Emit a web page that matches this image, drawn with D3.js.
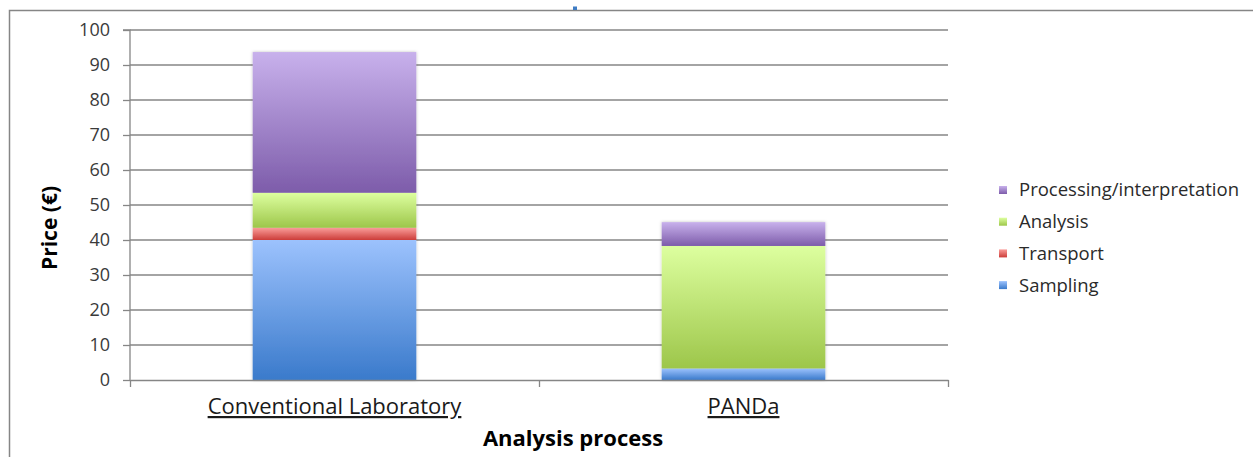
<!DOCTYPE html>
<html>
<head>
<meta charset="utf-8">
<script src="https://cdn.jsdelivr.net/npm/d3@7/dist/d3.min.js"></script>
<style>
    body { margin: 0; background: #fff; }
    text { font-family: "Open Sans", sans-serif; }
</style>
</head>
<body>
<div id="chart"></div>
<script>
var categories = ["Conventional Laboratory", "PANDa"];
var seriesNames = ["Sampling", "Transport", "Analysis", "Processing/interpretation"];
var sampling = [40, 3.3];
var transport = [3.5, 0];
var analysis = [10, 35];
var processing = [40.2, 6.8];
var yTicks = [0, 10, 20, 30, 40, 50, 60, 70, 80, 90, 100];

var svgWidth = 1253;
var svgHeight = 457;

var plot = { left: 130, right: 948, top: 30, bottom: 380 };
var fontStack = '"Open Sans", sans-serif';

var svg = d3.select("#chart").append("svg")
    .attr("width", svgWidth)
    .attr("height", svgHeight);

var defs = svg.append("defs");

// light top -> dark bottom, like the office gradient fills
var fills = [
    { id: "gSampling", top: "#9cc2fd", bottom: "#3a7acb" },
    { id: "gTransport", top: "#fa9d9a", bottom: "#cc3d39" },
    { id: "gAnalysis", top: "#ddff9f", bottom: "#9dc64a" },
    { id: "gProcessing", top: "#c8b1ec", bottom: "#7d5caa" }
];

fills.forEach(function(f) {
    var g = defs.append("linearGradient")
        .attr("id", f.id)
        .attr("x1", 0).attr("y1", 0).attr("x2", 0).attr("y2", 1);
    g.append("stop").attr("offset", "0%").attr("stop-color", f.top);
    g.append("stop").attr("offset", "100%").attr("stop-color", f.bottom);
});

var shadow = defs.append("filter").attr("id", "barShadow")
    .attr("x", "-10%").attr("y", "-10%").attr("width", "120%").attr("height", "120%");
shadow.append("feDropShadow")
    .attr("dx", 0).attr("dy", 0).attr("stdDeviation", 1.6)
    .attr("flood-color", "#000").attr("flood-opacity", 0.25);

// outer chart frame (runs off the right and bottom edge)
svg.append("rect")
    .attr("x", 9.5).attr("y", 10.5)
    .attr("width", 1260).attr("height", 470)
    .attr("fill", "none")
    .attr("stroke", "#868686")
    .attr("stroke-width", 1.5);

svg.append("rect")
    .attr("x", 573).attr("y", 6.5)
    .attr("width", 4).attr("height", 3.5)
    .attr("fill", "#3f7cc4");

var data = categories.map(function(c, i) {
    return {
        category: c,
        "Sampling": sampling[i],
        "Transport": transport[i],
        "Analysis": analysis[i],
        "Processing/interpretation": processing[i]
    };
});

var stacked = d3.stack().keys(seriesNames)(data);

var xScale = d3.scaleBand()
    .domain(categories)
    .range([plot.left, plot.right])
    .paddingInner(0.6)
    .paddingOuter(0.3);

var yScale = d3.scaleLinear()
    .domain([0, 100])
    .range([plot.bottom, plot.top]);

// gridlines
svg.append("g")
    .selectAll("line")
    .data(yTicks.slice(1))
    .enter()
    .append("line")
    .attr("x1", plot.left).attr("x2", plot.right)
    .attr("y1", d => yScale(d)).attr("y2", d => yScale(d))
    .attr("stroke", "#868686")
    .attr("stroke-width", 1.3);

var leftAxis = d3.axisLeft(yScale)
    .tickValues(yTicks)
    .tickSize(7)
    .tickPadding(13);

var yAxis = svg.append("g")
    .attr("transform", `translate(${plot.left}, 0)`)
    .call(leftAxis);

yAxis.selectAll("path, line").attr("stroke", "#868686").attr("stroke-width", 1.3);
yAxis.select(".domain").attr("d", `M-7,${plot.top}H0V${plot.bottom}`);
yAxis.selectAll("text")
    .attr("font-size", "18px")
    .attr("fill", "#3a3a3a")
    .style("font-family", fontStack);

// bars
var barGroup = svg.append("g").attr("filter", "url(#barShadow)");

barGroup.selectAll("g")
    .data(stacked)
    .enter()
    .append("g")
    .attr("fill", (d, i) => `url(#${fills[i].id})`)
    .selectAll("rect")
    .data(d => d.filter(s => s[1] - s[0] > 0))
    .enter()
    .append("rect")
    .attr("x", d => xScale(d.data.category))
    .attr("width", xScale.bandwidth())
    .attr("y", d => yScale(d[1]))
    .attr("height", d => yScale(d[0]) - yScale(d[1]));

// category axis with ticks at the category boundaries
var boundary = d3.scaleLinear()
    .domain([0, categories.length])
    .range([plot.left, plot.right]);

var bottomAxis = d3.axisBottom(boundary)
    .tickValues(d3.range(categories.length + 1))
    .tickSize(7)
    .tickSizeOuter(0)
    .tickFormat("");

var xAxis = svg.append("g")
    .attr("transform", `translate(0, ${plot.bottom})`)
    .call(bottomAxis);

xAxis.selectAll("path, line").attr("stroke", "#868686").attr("stroke-width", 1.3);

svg.append("g")
    .selectAll("text")
    .data(categories)
    .enter()
    .append("text")
    .attr("x", d => xScale(d) + xScale.bandwidth() / 2)
    .attr("y", 414)
    .attr("text-anchor", "middle")
    .attr("font-size", "22px")
    .attr("fill", "#1a1a1a")
    .style("text-decoration", "underline")
    .text(d => d);

svg.append("text")
    .attr("x", 573)
    .attr("y", 446)
    .attr("text-anchor", "middle")
    .attr("font-size", "22px")
    .attr("font-weight", "bold")
    .attr("fill", "#000")
    .text("Analysis process");

svg.append("text")
    .attr("transform", "translate(57, 228) rotate(-90)")
    .attr("text-anchor", "middle")
    .attr("font-size", "21px")
    .attr("font-weight", "bold")
    .attr("fill", "#000")
    .text("Price (€)");

// legend, last series on top
var legendRows = seriesNames.map((d, i) => ({ name: d, fill: fills[i].id })).reverse();

var legend = svg.append("g")
    .selectAll("g")
    .data(legendRows)
    .enter()
    .append("g")
    .attr("transform", (d, i) => `translate(999, ${190 + i * 31.7})`);

legend.append("rect")
    .attr("x", 0).attr("y", -4)
    .attr("width", 8).attr("height", 8)
    .attr("fill", d => `url(#${d.fill})`);

legend.append("text")
    .attr("x", 20)
    .attr("y", 0)
    .attr("dy", "0.35em")
    .attr("font-size", "18.5px")
    .attr("fill", "#2a2a2a")
    .text(d => d.name);
</script>
</body>
</html>
